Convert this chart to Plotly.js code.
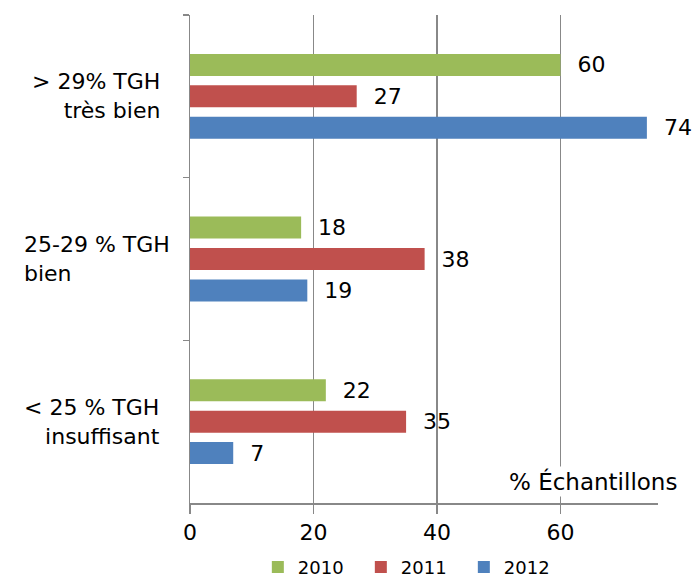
<!DOCTYPE html>
<html><head><meta charset="utf-8">
<script src="https://cdn.plot.ly/plotly-3.0.1.min.js"></script>
<style>html,body{margin:0;padding:0;background:#fff}</style>
</head><body>
<div id="chart" style="width:693px;height:580px"></div>
<script>
const categories = ['> 29% TGH<br>très bien', '25-29 % TGH<br>bien', '< 25 % TGH<br>insuffisant'];
const seriesNames = ['2010', '2011', '2012'];
const values2010 = [60, 18, 22];
const values2011 = [27, 38, 35];
const values2012 = [74, 19, 7];
const xTicks = [0, 20, 40, 60];
const xTitle = '% Échantillons';

const colors = ['#9BBB59', '#C0504D', '#4F81BD'];
const allValues = [values2010, values2011, values2012];
const FONT = 'DejaVu Sans, sans-serif';

const traces = allValues.map((vals, i) => ({
  type: 'bar', orientation: 'h', name: seriesNames[i],
  y: categories, x: vals,
  marker: {color: colors[i]},
  texttemplate: '\u00a0\u00a0%{x}',
  textposition: 'outside', cliponaxis: false, constraintext: 'none',
  textfont: {family: FONT, size: 22, color: '#000'},
  hoverinfo: 'none'
}));

const labelX = [-0.06, -0.359, -0.06];
const labelAnchor = ['right', 'left', 'right'];
const annotations = categories.map((c, i) => ({
  xref: 'paper', yref: 'y', x: labelX[i], y: c, text: c,
  xanchor: labelAnchor[i], yanchor: 'middle', align: labelAnchor[i],
  showarrow: false, font: {family: FONT, size: 22, color: '#000'}
}));
annotations.push({
  xref: 'paper', yref: 'paper', x: 1.045, y: 0.045, xanchor: 'right', yanchor: 'middle',
  text: xTitle, showarrow: false, bgcolor: '#fff',
  font: {family: FONT, size: 23, color: '#000'}
});

const layout = {
  width: 693, height: 580,
  margin: {l: 190, r: 35, t: 15, b: 77},
  paper_bgcolor: '#fff', plot_bgcolor: '#fff',
  barmode: 'group', bargap: 0.42, bargroupgap: 0.3,
  showlegend: true,
  legend: {orientation: 'h', xref: 'container', yref: 'container', x: 0.595, xanchor: 'center', y: 0.022, yanchor: 'middle',
           font: {family: FONT, size: 18, color: '#000'}, entrywidth: 58, entrywidthmode: 'pixels', traceorder: 'normal'},
  xaxis: {range: [0, 75.8], tickvals: xTicks, ticktext: xTicks.map(String),
          showgrid: true, gridcolor: '#888', gridwidth: 1.5,
          showline: true, linecolor: '#888', linewidth: 1.5,
          ticks: 'outside', ticklen: 9, tickcolor: '#888', tickwidth: 1.5,
          zeroline: false, tickfont: {family: FONT, size: 22, color: '#000'}},
  yaxis: {autorange: 'reversed', type: 'category', showticklabels: false,
          ticks: 'outside', tickson: 'boundaries', ticklen: 6, tickcolor: '#888', tickwidth: 1.5,
          showline: true, linecolor: '#888', linewidth: 1.5, showgrid: false},
  annotations: annotations
};

Plotly.newPlot('chart', traces, layout, {displayModeBar: false, staticPlot: true});
</script>
</body></html>
